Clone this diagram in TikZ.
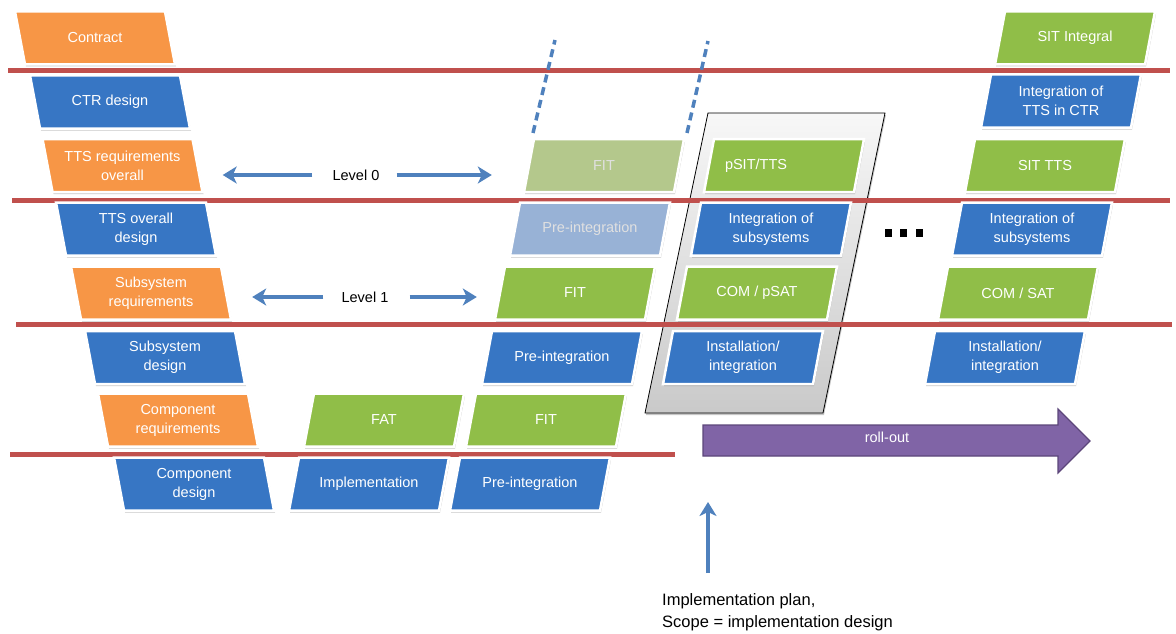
\documentclass[tikz,border=0pt]{standalone}
\usepackage{fontspec}
\setmainfont{Liberation Sans}
\usepackage{xcolor}
\usepackage{tikz}
\usetikzlibrary{arrows.meta, positioning, calc, backgrounds}
\definecolor{reqorange}{RGB}{247, 150, 70}
\definecolor{desblue}{RGB}{55, 118, 196}
\definecolor{testgreen}{RGB}{144, 190, 72}
\definecolor{fadegreen}{RGB}{180, 200, 140}
\definecolor{fadeblue}{RGB}{152, 178, 214}
\definecolor{levelred}{RGB}{192, 80, 77}
\definecolor{arrowblue}{RGB}{79, 129, 189}
\definecolor{rollpurple}{RGB}{128, 100, 166}
\definecolor{rolledge}{RGB}{92, 70, 122}

\begin{document}
\begin{tikzpicture}[
    x=1pt, y=-1pt,
    box/.style={rectangle, minimum width=152pt, minimum height=53pt, inner sep=0pt, align=center, text=white, font=\fontsize{14.5}{19}\selectfont},
    fadebox/.style={box, text=white!88!black},
    boxshadow/.style={black, opacity=0.22},
    boxface/.style={draw=white, line width=2.5pt},
    redline/.style={levelred, line width=5pt},
    larrow/.style={arrowblue, line width=3.5pt, -{Stealth[length=14pt, width=17pt, inset=4pt]}},
    dashline/.style={arrowblue, line width=3.5pt, dash pattern=on 8pt off 5pt},
    lvl/.style={inner sep=0pt, font=\fontsize{14.5}{17}\selectfont}
]
    \useasboundingbox (0,0) rectangle (1176,634);

    % left side of the V
    \node [box] (contract) at (95,38) {Contract};
    \node [box] (ctrdes) at (110,102) {CTR design};
    \node [box] (ttsreq) at (122.5,165.5) {TTS requirements\\overall};
    \node [box] (ttsdes) at (136,229) {TTS overall\\design};
    \node [box] (subreq) at (151,293) {Subsystem\\requirements};
    \node [box] (subdes) at (165,357.5) {Subsystem\\design};
    \node [box] (compreq) at (178,420) {Component\\requirements};
    \node [box] (compdes) at (194,484) {Component\\design};

    % right side of the V
    \node [box] (impl) at (369,484) {Implementation};
    \node [box] (fat) at (384,420) {FAT};
    \node [box] (preintc) at (530,484) {Pre-integration};
    \node [box] (fitc) at (546,420) {FIT};
    \node [box] (preints) at (562,357.5) {Pre-integration};
    \node [box] (fits) at (575,293) {FIT};
    \node [fadebox] (preinto) at (590,229) {Pre-integration};
    \node [fadebox] (fito) at (604,165.5) {FIT};

    % pilot
    \node [box] (psit) at (784,165.5) {\makebox[118pt][l]{pSIT/TTS}};
    \node [box] (intsub) at (771,229) {Integration of\\subsystems};
    \node [box] (compsat) at (757,293) {COM / pSAT};
    \node [box] (install) at (743,357.5) {Installation/\\integration};

    % full system
    \node [box] (sitint) at (1075,38) {SIT Integral};
    \node [box] (intctr) at (1061,101) {Integration of\\TTS in CTR};
    \node [box] (sittts) at (1045,165.5) {SIT TTS};
    \node [box] (intsubr) at (1032,229) {Integration of\\subsystems};
    \node [box] (comsat) at (1018,293) {COM / SAT};
    \node [box] (installr) at (1005,357.5) {Installation/\\integration};

    \begin{scope}[on background layer]
        % grey frame round the pilot
        \fill [boxshadow] (709,115) -- (886,115) -- (824,415) -- (646,415) -- cycle;
        \draw [black, line width=0.8pt, top color=gray!6, bottom color=gray!42]
            (708,113) -- (885,113) -- (823,413) -- (645,413) -- cycle;

        % level lines
        \draw [redline] (8,71) -- (1170,71);
        \draw [redline] (12,200) -- (1170,200);
        \draw [redline] (16,324) -- (1172,324);
        \draw [redline] (10,454) -- (675,454);

        % boxes slanted like \
        \foreach \n/\c in {contract/reqorange, ctrdes/desblue, ttsreq/reqorange, ttsdes/desblue,
                           subreq/reqorange, subdes/desblue, compreq/reqorange, compdes/desblue} {
            \fill [boxshadow, shift={(\n)}] (-79,-24.5) -- (71,-24.5) -- (81,28.5) -- (-69,28.5) -- cycle;
            \filldraw [boxface, fill=\c, shift={(\n)}] (-80,-26.5) -- (70,-26.5) -- (80,26.5) -- (-70,26.5) -- cycle;
        }
        % boxes slanted like /
        \foreach \n/\c in {impl/desblue, fat/testgreen, preintc/desblue, fitc/testgreen, preints/desblue,
                           fits/testgreen, preinto/fadeblue, fito/fadegreen, psit/testgreen, intsub/desblue,
                           compsat/testgreen, install/desblue, sitint/testgreen, intctr/desblue,
                           sittts/testgreen, intsubr/desblue, comsat/testgreen, installr/desblue} {
            \fill [boxshadow, shift={(\n)}] (-69,-24.5) -- (81,-24.5) -- (71,28.5) -- (-79,28.5) -- cycle;
            \filldraw [boxface, fill=\c, shift={(\n)}] (-70,-26.5) -- (80,-26.5) -- (70,26.5) -- (-80,26.5) -- cycle;
        }
    \end{scope}

    \coordinate (dashatop) at (555,40);
    \coordinate (dashabot) at (533,133);
    \coordinate (dashbtop) at (708,41);
    \coordinate (dashbbot) at (687,133);
    \draw [dashline] (dashabot) -- (dashatop);
    \draw [dashline] (dashbbot) -- (dashbtop);

    \foreach \dx in {885,900,916}
        \fill (\dx,229) rectangle ++(7,8);

    % levels
    \node [lvl] (lv0) at (356,175) {Level 0};
    \node [lvl] (lv1) at (365,297) {Level 1};
    \draw [larrow, shorten <=20pt, shorten >=24pt] (lv0.west) -- (lv0.west -| ttsreq.east);
    \draw [larrow, shorten <=17pt, shorten >=36pt] (lv0.east) -- (lv0.east -| fito.west);
    \draw [larrow, shorten <=18pt, shorten >=25pt] (lv1.west) -- (lv1.west -| subreq.east);
    \draw [larrow, shorten <=21pt, shorten >=22pt] (lv1.east) -- (lv1.east -| fits.west);

    % roll-out
    \draw [rolledge, line width=1.2pt, fill=rollpurple]
        (703,425) -- (1058,425) -- (1058,409) -- (1090,441) -- (1058,473) -- (1058,456) -- (703,456) -- cycle;
    \node [lvl, text=white] (roll) at (887,437) {roll-out};

    % implementation plan
    \node [anchor=north west, inner sep=0pt, align=left, font=\fontsize{16.5}{22}\selectfont] (plan) at (662,593) {Implementation plan,\\Scope = implementation design};
    \coordinate (plantip) at (708,502);
    \draw [larrow, shorten <=20pt] (plantip |- plan.north) -- (plantip);

\end{tikzpicture}
\end{document}
